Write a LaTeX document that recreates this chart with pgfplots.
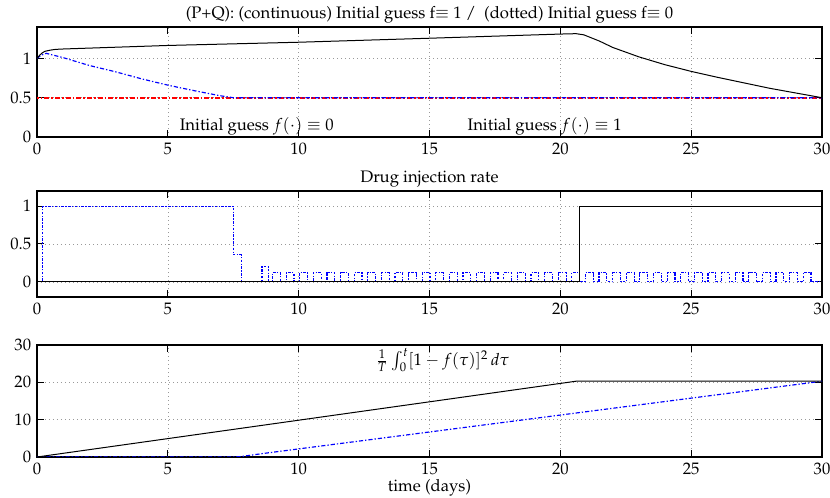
\documentclass[border=0pt]{standalone}
\usepackage[T1]{fontenc}
\usepackage{mathpazo}
\usepackage{pgfplots}
\pgfplotsset{compat=1.18}

\pgfplotsset{
  panel/.style={
    scale only axis,
    width=471pt,
    xmin=0, xmax=30,
    xtick={0,5,10,15,20,25,30},
    grid=major,
    grid style={dotted, gray!80},
    tick align=inside,
    tick style={black, line width=0.6pt},
    axis line style={line width=0.8pt},
    anchor=north west,
    tick label style={font=\normalsize},
    title style={yshift=-7pt},
  },
}
\definecolor{mred}{RGB}{255,0,0}
\definecolor{mblue}{RGB}{0,0,255}

\begin{document}
\begin{tikzpicture}
\path[use as bounding box] (-22.2pt,0pt) rectangle (475.8pt,-298.8pt);

% top panel: P+Q
\begin{axis}[panel,
    at={(0pt,-16.2pt)}, height=66pt,
    ymin=0, ymax=1.4, ytick={0,0.5,1},
    title={(P+Q): (continuous) Initial guess f$\equiv$ 1 /\ \ (dotted) Initial guess f$\equiv$ 0},
]
\addplot[color=mred, line width=1pt, dash pattern=on 3pt off 1.2pt on 1pt off 1.2pt, dash phase=2pt] coordinates {(0,0.5) (30,0.5)};
\addplot[color=mblue, line width=0.7pt, dash pattern=on 2.5pt off 1.2pt on 0.8pt off 1.2pt] coordinates {
  (0,1.0) (0.15,1.04) (0.35,1.065) (1,1.01) (2,0.91) (3,0.83) (4,0.74)
  (5,0.66) (6,0.59) (7,0.525) (7.5,0.5) (30,0.5)
};
\addplot[color=black, line width=0.6pt] coordinates {
  (0,1.0) (0.1,1.04) (0.2,1.07) (0.3,1.09) (0.5,1.105) (0.7,1.115) (1,1.12)
  (5,1.165) (10,1.206) (15,1.257) (20,1.31) (20.6,1.315) (20.9,1.30)
  (21.5,1.22) (22,1.14) (23,1.02) (24,0.92) (25,0.835) (26,0.76)
  (27,0.69) (28,0.62) (29,0.56) (30,0.5)
};
\node at (axis cs:8.4,0.13) {Initial guess $f(\cdot)\equiv 0$};
\node at (axis cs:19.4,0.13) {Initial guess $f(\cdot)\equiv 1$};
\end{axis}

% middle panel: drug injection rate
\begin{axis}[panel,
    at={(0pt,-114.6pt)}, height=63.6pt,
    ymin=-0.2, ymax=1.2, ytick={0,0.5,1},
    title={Drug injection rate},
]
\addplot[color=mblue, line width=0.7pt, dash pattern=on 1.6pt off 0.8pt on 0.8pt off 0.8pt, const plot] coordinates {
  (0,0) (0.22,1) (7.5,0.36) (7.8,0) (8.6,0.2) (8.85,0)
  (9.00,0.12) (9.30,0) (9.52,0.12) (9.82,0) (10.04,0.12) (10.34,0)
  (10.56,0.12) (10.86,0) (11.08,0.12) (11.38,0) (11.60,0.12) (11.90,0)
  (12.12,0.12) (12.42,0) (12.64,0.12) (12.94,0) (13.16,0.12) (13.46,0)
  (13.68,0.12) (13.98,0) (14.20,0.12) (14.50,0) (14.72,0.12) (15.02,0)
  (15.24,0.12) (15.54,0) (15.76,0.12) (16.06,0) (16.28,0.12) (16.58,0)
  (16.80,0.12) (17.10,0) (17.32,0.12) (17.62,0) (17.84,0.12) (18.14,0)
  (18.36,0.12) (18.66,0) (18.88,0.12) (19.18,0) (19.40,0.12) (19.70,0)
  (19.92,0.12) (20.22,0) (20.44,0.12) (20.74,0) (20.96,0.12) (21.26,0)
  (21.48,0.12) (21.78,0) (22.00,0.12) (22.30,0) (22.52,0.12) (22.82,0)
  (23.04,0.12) (23.34,0) (23.56,0.12) (23.86,0) (24.08,0.12) (24.38,0)
  (24.60,0.12) (24.90,0) (25.12,0.12) (25.42,0) (25.64,0.12) (25.94,0)
  (26.16,0.12) (26.46,0) (26.68,0.12) (26.98,0) (27.20,0.12) (27.50,0)
  (27.72,0.12) (28.02,0) (28.24,0.12) (28.54,0) (28.76,0.12) (29.06,0)
  (29.28,0.12) (29.58,0) (30,0)
};
\addplot[color=black, line width=0.6pt, const plot] coordinates {(0,0) (20.75,1) (30,1)};
\end{axis}

% bottom panel: cost integral
\begin{axis}[panel,
    at={(0pt,-207pt)}, height=67.2pt,
    ymin=0, ymax=30, ytick={0,10,20,30},
    xlabel={time (days)},
    xlabel style={yshift=4pt},
]
\addplot[color=mblue, line width=0.7pt, dash pattern=on 2.5pt off 1.2pt on 0.8pt off 1.2pt] coordinates {
  (0,0) (7.5,0) (7.8,0.12) (8.6,0.9) (30,20.3)
};
\addplot[color=black, line width=0.6pt] coordinates {(0,0) (20.6,20.3) (30,20.3)};
\node at (axis cs:15.5,26) {$\frac{1}{T}\int_0^t[1-f(\tau)]^2\,d\tau$};
\end{axis}
\end{tikzpicture}
\end{document}
